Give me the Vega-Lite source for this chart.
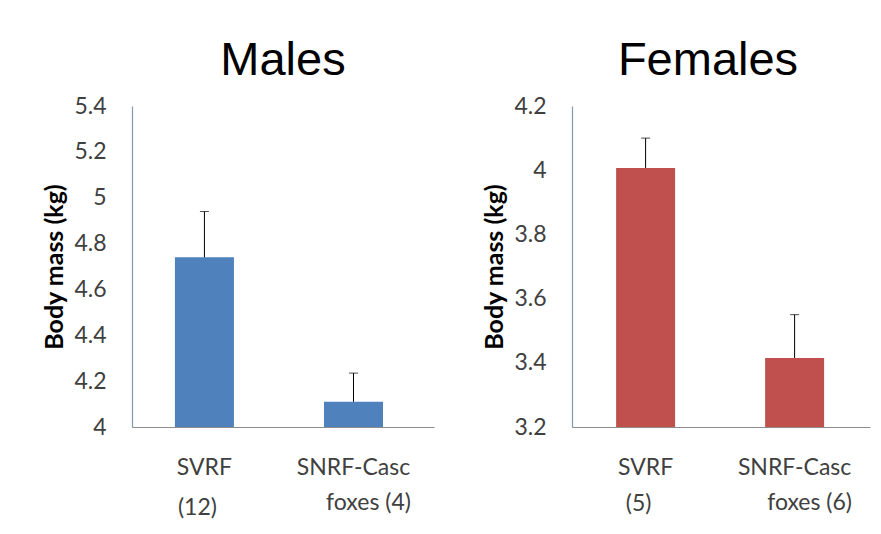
{
  "$schema": "https://vega.github.io/schema/vega-lite/v6.json",
  "background": "white",
  "padding": {"left": 42, "top": 37, "right": 5, "bottom": 5},
  "spacing": 48,
  "datasets": {
    "mass": [
      {"sex": "Males", "site": "SVRF", "n": "(12)", "mean": 4.74, "upper": 4.94},
      {"sex": "Males", "site": "SNRF-Casc", "n": "foxes (4)", "mean": 4.11, "upper": 4.235},
      {"sex": "Females", "site": "SVRF", "n": "(5)", "mean": 4.007, "upper": 4.1},
      {"sex": "Females", "site": "SNRF-Casc", "n": "foxes (6)", "mean": 3.415, "upper": 3.55}
    ]
  },
  "hconcat": [
    {
      "width": 302,
      "height": 321,
      "title": {"text": "Males"},
      "data": {"name": "mass"},
      "transform": [{"filter": "datum.sex === 'Males'"}],
      "resolve": {"axis": {"x": "independent"}},
      "layer": [
        {
          "mark": {"type": "bar", "color": "#4F81BD"},
          "encoding": {
            "x": {
              "field": "site",
              "type": "nominal",
              "sort": ["SVRF", "SNRF-Casc"],
              "scale": {"paddingInner": 0.604, "paddingOuter": 0.315, "align": 0.457},
              "axis": {"orient": "bottom"}
            },
            "y": {
              "field": "mean",
              "type": "quantitative",
              "scale": {"domain": [4, 5.4], "nice": false, "zero": false},
              "axis": {"title": "Body mass (kg)", "values": [4, 4.2, 4.4, 4.6, 4.8, 5, 5.2, 5.4]}
            },
            "y2": {"datum": 4}
          }
        },
        {
          "mark": {"type": "rule", "color": "black", "strokeWidth": 1},
          "encoding": {
            "x": {
              "field": "site",
              "type": "nominal",
              "sort": ["SVRF", "SNRF-Casc"],
              "axis": {
                "orient": "bottom",
                "domain": false,
                "labelExpr": "datum.label === 'SVRF' ? '(12)' : 'foxes (4)'",
                "labelOffset": {"condition": {"test": "datum.label === 'SVRF'", "value": -7}, "value": 15},
                "labelPadding": {"condition": {"test": "datum.label === 'SVRF'", "value": 69}, "value": 64}
              }
            },
            "y": {"field": "mean", "type": "quantitative"},
            "y2": {"field": "upper"}
          }
        },
        {
          "mark": {"type": "tick", "color": "black", "size": 9, "thickness": 1},
          "encoding": {
            "x": {"field": "site", "type": "nominal", "sort": ["SVRF", "SNRF-Casc"], "axis": null},
            "y": {"field": "upper", "type": "quantitative"}
          }
        }
      ]
    },
    {
      "width": 298,
      "height": 321,
      "title": {"text": "Females", "dx": -13},
      "data": {"name": "mass"},
      "transform": [{"filter": "datum.sex === 'Females'"}],
      "resolve": {"axis": {"x": "independent"}},
      "layer": [
        {
          "mark": {"type": "bar", "color": "#C0504D"},
          "encoding": {
            "x": {
              "field": "site",
              "type": "nominal",
              "sort": ["SVRF", "SNRF-Casc"],
              "scale": {"paddingInner": 0.604, "paddingOuter": 0.302, "align": 0.49},
              "axis": {"orient": "bottom"}
            },
            "y": {
              "field": "mean",
              "type": "quantitative",
              "scale": {"domain": [3.2, 4.2], "nice": false, "zero": false},
              "axis": {"title": "Body mass (kg)", "values": [3.2, 3.4, 3.6, 3.8, 4, 4.2]}
            },
            "y2": {"datum": 3.2}
          }
        },
        {
          "mark": {"type": "rule", "color": "black", "strokeWidth": 1},
          "encoding": {
            "x": {
              "field": "site",
              "type": "nominal",
              "sort": ["SVRF", "SNRF-Casc"],
              "axis": {
                "orient": "bottom",
                "domain": false,
                "labelExpr": "datum.label === 'SVRF' ? '(5)' : 'foxes (6)'",
                "labelOffset": {"condition": {"test": "datum.label === 'SVRF'", "value": -7}, "value": 15},
                "labelPadding": {"condition": {"test": "datum.label === 'SVRF'", "value": 65}, "value": 64}
              }
            },
            "y": {"field": "mean", "type": "quantitative"},
            "y2": {"field": "upper"}
          }
        },
        {
          "mark": {"type": "tick", "color": "black", "size": 9, "thickness": 1},
          "encoding": {
            "x": {"field": "site", "type": "nominal", "sort": ["SVRF", "SNRF-Casc"], "axis": null},
            "y": {"field": "upper", "type": "quantitative"}
          }
        }
      ]
    }
  ],
  "config": {
    "view": {"stroke": null},
    "title": {
      "font": "Liberation Sans",
      "fontSize": 47,
      "fontWeight": "normal",
      "color": "black",
      "anchor": "middle",
      "baseline": "alphabetic",
      "offset": 10
    },
    "axisX": {
      "title": null,
      "labelAngle": 0,
      "labelFont": "Lato",
      "labelFontSize": 23,
      "labelColor": "#404040",
      "labelPadding": 29,
      "ticks": false,
      "tickSize": 0,
      "grid": false,
      "domainColor": "#8c8c8c",
      "domainWidth": 1.2
    },
    "axisY": {
      "format": "~g",
      "labelFont": "Lato",
      "labelFontSize": 23,
      "labelColor": "#404040",
      "labelPadding": 26,
      "ticks": false,
      "tickSize": 0,
      "grid": false,
      "domainColor": "#8497b0",
      "domainWidth": 1.2,
      "titleFont": "Lato",
      "titleFontSize": 25,
      "titleFontWeight": "bold",
      "titleColor": "black",
      "titlePadding": 6
    }
  }
}
